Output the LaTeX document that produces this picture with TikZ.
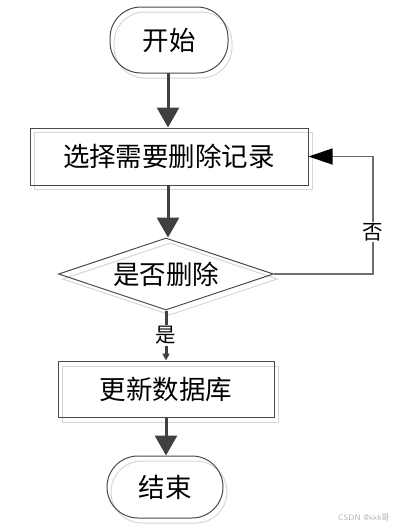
\documentclass[tikz,border=0pt]{standalone}
\usepackage{fontspec}
\newfontfamily\cjk{Noto Sans CJK SC}
\usetikzlibrary{arrows.meta,shapes.geometric,calc}
\definecolor{edge}{HTML}{4A4A4A}
\definecolor{thick}{HTML}{404040}
\definecolor{shade}{HTML}{D6D6D6}
\begin{document}
\begin{tikzpicture}[x=1pt,y=-1pt,
  base/.style={draw=edge,line width=1pt,inner sep=0pt,font=\cjk\fontsize{26.5}{29}\selectfont},
  term/.style={base,rectangle,rounded corners=31pt},
  proc/.style={base,rectangle},
  dec/.style={base,diamond,aspect=3},
  ghost/.style={draw=shade},
  flow/.style={draw=thick,line width=3pt,-{Triangle[width=22pt,length=20pt]}},
  lbl/.style={fill=white,inner sep=1pt,font=\cjk\fontsize{20.5}{22}\selectfont,text=black}
]
\useasboundingbox (0,0) rectangle (396,528);
% shadows (outline copies)
\node[term,ghost,minimum width=118pt,minimum height=66pt] at (173,45) {};
\node[proc,ghost,minimum width=278pt,minimum height=57pt] at (173,161) {};
\node[dec,ghost,minimum width=215pt,minimum height=72pt] at (170,279) {};
\node[proc,ghost,minimum width=216pt,minimum height=56pt] at (170,394) {};
\node[term,ghost,minimum width=116pt,minimum height=62pt] at (169,492) {};
% main nodes
\node[term,minimum width=118pt,minimum height=66pt] (start) at (169,40) {开始};
\node[proc,minimum width=278pt,minimum height=57pt] (select) at (169,156.5) {选择需要删除记录};
\node[dec,minimum width=215pt,minimum height=72pt] (ask) at (166,274) {是否删除};
\node[proc,minimum width=216pt,minimum height=56pt] (update) at (166,389) {更新数据库};
\node[term,minimum width=116pt,minimum height=62pt] (stop) at (165,487) {结束};
% connectors
\draw[flow] (168,73) coordinate (a1) -- (a1 |- select.north);
\draw[flow] (168,185) coordinate (a2) -- (a2 |- ask.north);
\draw[flow] (update.south) -- (update.south |- stop.north);
\draw[draw=thick,line width=3pt,-{Triangle[width=7pt,length=7pt]}] (ask.south) -- (update.north)
  node[lbl,pos=0.5] {是};
\coordinate (corner) at (373,156.5);
\draw[draw=edge!80,line width=1.3pt,-{Triangle[width=16pt,length=24pt,color=black]}]
  (ask.east) -| (corner) -- (select.east);
\node[lbl] at (373,232) {否};
\node[font=\sffamily\fontsize{8}{9}\selectfont,text=gray!60,anchor=east] (mark) at (393,518) {CSDN @kkk\cjk{哥}};
\end{tikzpicture}
\end{document}
